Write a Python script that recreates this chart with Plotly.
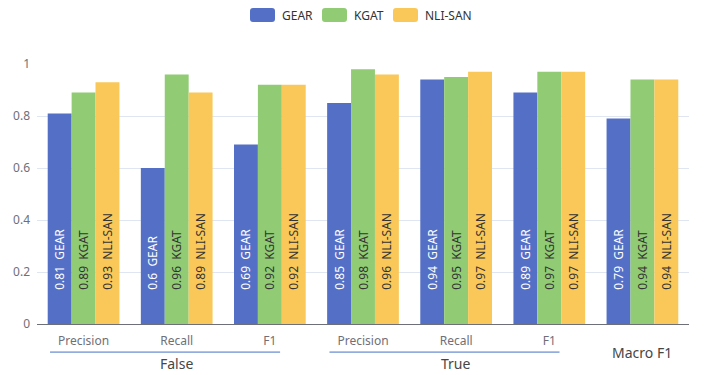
import plotly.graph_objects as go

categories = ["Precision", "Recall", "F1", "Precision", "Recall", "F1", "Macro F1"]
groups = ["False", "False", "False", "True", "True", "True", ""]
series_names = ["GEAR", "KGAT", "NLI-SAN"]
gear = [0.81, 0.6, 0.69, 0.85, 0.94, 0.89, 0.79]
kgat = [0.89, 0.96, 0.92, 0.98, 0.95, 0.97, 0.94]
nlisan = [0.93, 0.89, 0.92, 0.96, 0.97, 0.97, 0.94]

colors = ["#5470c6", "#91cc75", "#fac858"]
label_colors = ["#ffffff", "#333333", "#333333"]
FONT = "Noto Sans, Microsoft YaHei, sans-serif"

W, H = 710, 375
ML, MR, MT, MB = 37, 21, 64, 51
PW, PH = W - ML - MR, H - MT - MB

LABEL_PAD = "\u00a0" * 10  # lifts the label off the bar base, as in the reference

x = list(range(len(categories)))
fig = go.Figure()
for name, vals, c, lc in zip(series_names, [gear, kgat, nlisan], colors, label_colors):
    fig.add_trace(go.Bar(
        x=x, y=vals, name=name, marker=dict(color=c, line=dict(width=0)),
        text=[f"{LABEL_PAD}{v:g}\u00a0\u00a0{name}" for v in vals],
        textposition="inside", insidetextanchor="start", textangle=-90,
        insidetextfont=dict(color=lc, size=12, family=FONT),
        constraintext="none", cliponaxis=False, showlegend=False,
        hovertemplate=f"{name}: %{{y}}<extra></extra>",
    ))

shapes = []
annotations = []

def px_x(p):
    return (p - ML) / PW

def px_y(p):
    return (H - MB - p) / PH

# custom legend with rounded swatches
legend_x = [250, 322, 393]
for name, c, lx in zip(series_names, colors, legend_x):
    x0, x1 = px_x(lx), px_x(lx + 25)
    y0, y1 = px_y(22), px_y(8)
    r = 3
    rx, ry = r / PW, r / PH
    path = (f"M {x0+rx},{y0} L {x1-rx},{y0} Q {x1},{y0} {x1},{y0+ry} "
            f"L {x1},{y1-ry} Q {x1},{y1} {x1-rx},{y1} L {x0+rx},{y1} "
            f"Q {x0},{y1} {x0},{y1-ry} L {x0},{y0+ry} Q {x0},{y0} {x0+rx},{y0} Z")
    shapes.append(dict(type="path", xref="paper", yref="paper", path=path,
                       fillcolor=c, line=dict(width=0)))
    annotations.append(dict(x=px_x(lx + 30), y=px_y(15), xref="paper", yref="paper",
                            text=name, showarrow=False, xanchor="left", yanchor="middle",
                            font=dict(size=12, color="#333333", family=FONT)))

# group labels / separators
x_tickvals, x_ticktext = [], []
for i, (cat, grp) in enumerate(zip(categories, groups)):
    if grp:
        x_tickvals.append(i)
        x_ticktext.append(cat)
uniq = []
for g in groups:
    if g and g not in uniq:
        uniq.append(g)
for g in uniq:
    idx = [i for i, gg in enumerate(groups) if gg == g]
    shapes.append(dict(type="line", xref="x", yref="paper",
                       x0=min(idx) - 0.36, x1=max(idx) + 0.11, y0=-0.108, y1=-0.108,
                       line=dict(color="#4472c4", width=1)))
    annotations.append(dict(x=sum(idx) / len(idx), y=-0.152, xref="x", yref="paper",
                            text=g, showarrow=False, yanchor="middle",
                            font=dict(size=14, color="#464646", family=FONT)))
for i, (cat, grp) in enumerate(zip(categories, groups)):
    if not grp:
        annotations.append(dict(x=i, y=-0.108, xref="x", yref="paper", text=cat,
                                showarrow=False, yanchor="middle",
                                font=dict(size=14, color="#464646", family=FONT)))

fig.update_layout(
    width=W, height=H,
    margin=dict(l=ML, r=MR, t=MT, b=MB, autoexpand=False),
    paper_bgcolor="white", plot_bgcolor="white",
    font=dict(family=FONT, size=12, color="#6e7079"),
    barmode="group", bargap=0.23, bargroupgap=0,
    showlegend=False,
    xaxis=dict(range=[-0.5, 6.5], tickmode="array", tickvals=x_tickvals, ticktext=x_ticktext,
               showline=True, linecolor="#6e7079", linewidth=1, showgrid=False,
               ticks="", ticklabelstandoff=6, tickfont=dict(size=12, color="#6e7079"),
               zeroline=False),
    yaxis=dict(range=[0, 1], tickvals=[0, 0.2, 0.4, 0.6, 0.8, 1],
               ticktext=["0", "0.2", "0.4", "0.6", "0.8", "1"],
               showgrid=True, gridcolor="#e0e6f1", gridwidth=1, zeroline=False,
               showline=False, ticks="", ticklabelstandoff=6,
               tickfont=dict(size=12, color="#6e7079")),
    shapes=shapes, annotations=annotations,
)
fig.write_html("out.html", config={"displayModeBar": False},
               post_script="document.body.style.margin='0';")
